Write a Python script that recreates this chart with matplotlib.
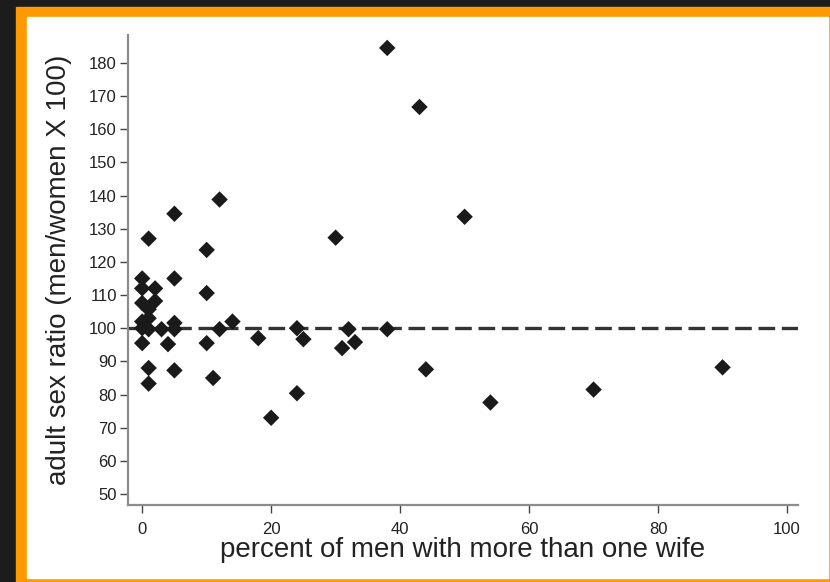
import matplotlib
matplotlib.use("Agg")
import matplotlib.pyplot as plt
from matplotlib.patches import Rectangle

# percent of men with more than one wife vs adult sex ratio
pct_polygyny = [38, 43, 50, 30, 12, 5, 1, 10, 0, 5,
                0, 2, 10, 2, 0, 1, 1, 0, 0, 1,
                3, 5, 5, 12, 14, 0, 4, 10, 18, 24,
                25, 31, 32, 33, 38, 1, 5, 1, 11, 24,
                20, 44, 54, 70, 90]
sex_ratio = [184.5, 166.7, 133.6, 127.3, 138.8, 134.5, 127, 123.6, 115, 115,
             112, 112, 110.6, 108.2, 107.6, 105.7, 103, 102, 100, 99.7,
             99.7, 101.6, 99.7, 99.7, 102, 95.5, 95.2, 95.5, 97, 100,
             96.7, 94, 99.7, 95.8, 99.7, 88, 87.3, 83.3, 85, 80.4,
             73, 87.6, 77.6, 81.5, 88.2]
y_ticks = list(range(50, 190, 10))
x_ticks = [0, 20, 40, 60, 80, 100]

W, H = 830, 582
fig = plt.figure(figsize=(W / 100, H / 100), dpi=100, facecolor="#1c1c1c")

# frame: dark outer band, orange border, white panel
fig.patches.append(Rectangle((16 / W, 0), 1 - 16 / W, 1 - 7 / H,
                             transform=fig.transFigure, color="#ff9900", zorder=-10))
fig.patches.append(Rectangle((27 / W, 4 / H), (828 - 27) / W, (578 - 17) / H,
                             transform=fig.transFigure, color="white", zorder=-9))

ax = fig.add_axes([128 / W, 1 - 505 / H, (798 - 128) / W, (505 - 35) / H])
ax.set_facecolor("none")

ax.scatter(pct_polygyny, sex_ratio, marker="D", s=70, color="#1a1a1a",
           edgecolors="none", zorder=3)
ax.axhline(100, color="#333333", lw=2.4, ls=(0, (5, 2)), zorder=2)

ax.set_xlim(-2.2, 101.7)
ax.set_ylim(46.7, 188.4)
ax.set_xticks(x_ticks)
ax.set_yticks(y_ticks)

narrow = ["Liberation Sans Narrow", "Liberation Sans", "DejaVu Sans"]
ax.set_xticklabels([str(t) for t in x_ticks], family=narrow, fontsize=12, color="#222222")
ax.set_yticklabels([str(t) for t in y_ticks], family=narrow, fontsize=12, color="#222222")

for side in ("top", "right"):
    ax.spines[side].set_visible(False)
for side in ("left", "bottom"):
    ax.spines[side].set_color("#8c8c8c")
    ax.spines[side].set_linewidth(1.6)

ax.tick_params(axis="y", direction="out", length=6, width=1, color="#444444", pad=2)
ax.tick_params(axis="x", direction="out", length=6, width=1, color="#444444", pad=6)

lab = ["Liberation Sans", "DejaVu Sans"]
ax.set_xlabel("percent of men with more than one wife", family=lab, fontsize=20,
              color="#222222", labelpad=0)
ax.set_ylabel("adult sex ratio (men/women X 100)", family=lab, fontsize=20,
              color="#222222", labelpad=12)

fig.savefig("out.png", dpi=100, facecolor=fig.get_facecolor())
